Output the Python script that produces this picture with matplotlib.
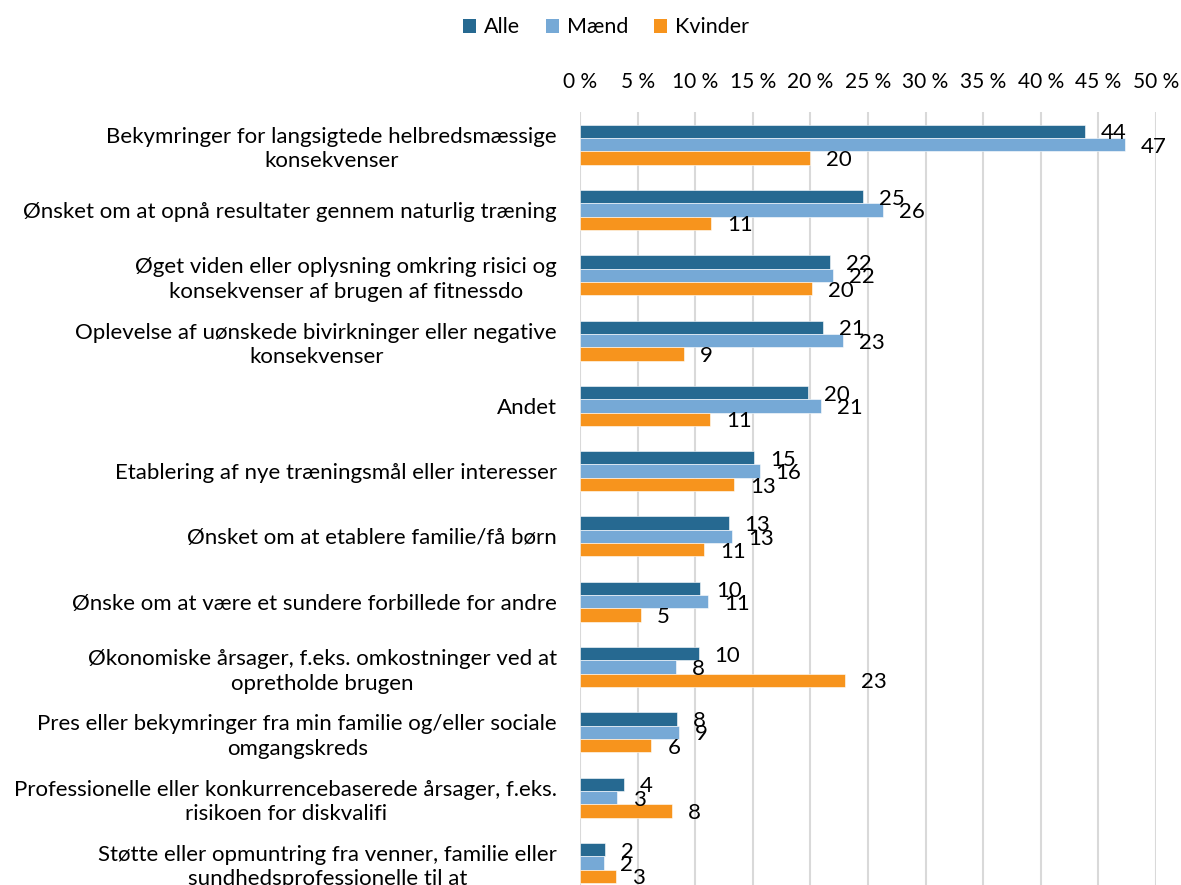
import matplotlib
matplotlib.use("Agg")
import matplotlib.pyplot as plt
from matplotlib.patches import Patch
import numpy as np

plt.rcParams['font.family'] = ['Lato', 'DejaVu Sans']

categories = [
    "Bekymringer for langsigtede helbredsmæssige\nkonsekvenser",
    "Ønsket om at opnå resultater gennem naturlig træning",
    "Øget viden eller oplysning omkring risici og\nkonsekvenser af brugen af fitnessdo",
    "Oplevelse af uønskede bivirkninger eller negative\nkonsekvenser",
    "Andet",
    "Etablering af nye træningsmål eller interesser",
    "Ønsket om at etablere familie/få børn",
    "Ønske om at være et sundere forbillede for andre",
    "Økonomiske årsager, f.eks. omkostninger ved at\nopretholde brugen",
    "Pres eller bekymringer fra min familie og/eller sociale\nomgangskreds",
    "Professionelle eller konkurrencebaserede årsager, f.eks.\nrisikoen for diskvalifi",
    "Støtte eller opmuntring fra venner, familie eller\nsundhedsprofessionelle til at",
]
alle = [43.8, 24.6, 21.7, 21.1, 19.8, 15.1, 12.9, 10.4, 10.3, 8.4, 3.8, 2.2]
maend = [47.3, 26.3, 22.0, 22.8, 20.9, 15.6, 13.2, 11.1, 8.3, 8.6, 3.2, 2.1]
kvinder = [20.0, 11.4, 20.1, 9.0, 11.3, 13.4, 10.8, 5.3, 23.0, 6.2, 8.0, 3.1]
series_names = ["Alle", "Mænd", "Kvinder"]
colors = ["#266991", "#76A9D6", "#F7941D"]
xticks = [0, 5, 10, 15, 20, 25, 30, 35, 40, 45, 50]

W, H = 1181, 885
fig = plt.figure(figsize=(W / 100, H / 100), dpi=100)

left, right = 580 / W, 1156 / W
top_px, row_px = 112, 65.3
n = len(categories)
bottom_px = top_px + n * row_px
ax = fig.add_axes([left, 1 - bottom_px / H, right - left, (bottom_px - top_px) / H])

y = np.arange(n)
h = 0.204
for i, (vals, col) in enumerate(zip([alle, maend, kvinder], colors)):
    pos = y + (i - 1) * h
    ax.barh(pos, vals, height=h, color=col, edgecolor="white", linewidth=0.4, zorder=3)
    for v, p in zip(vals, pos):
        ax.annotate(f"{round(v):d}", xy=(v, p), xytext=(11.5, -1.5),
                    textcoords="offset points", ha="left", va="center",
                    fontsize=16, color="black", zorder=4)

ax.set_xlim(0, 50)
ax.set_ylim(n - 0.5, -0.5)
ax.xaxis.tick_top()
ax.set_xticks(xticks, [f"{t} %" for t in xticks])
ax.tick_params(axis="x", length=0, pad=14.5, labelsize=15)
ax.set_yticks(y, categories, ma="center", linespacing=1.28)
ax.tick_params(axis="y", length=0, pad=16.5, labelsize=16)
ax.grid(axis="x", color="#D9D9D9", linewidth=1.5, zorder=0)
for s in ax.spines.values():
    s.set_visible(False)

handles = [Patch(facecolor=c, edgecolor="none") for c in colors]
fig.legend(handles, series_names, loc="upper center", ncol=3,
           bbox_to_anchor=(606 / W, 1.0), frameon=False, borderpad=0.3,
           fontsize=15.5, handlelength=0.62, handleheight=0.62,
           handletextpad=0.35, columnspacing=1.2)

fig.savefig("out.png", dpi=100)
